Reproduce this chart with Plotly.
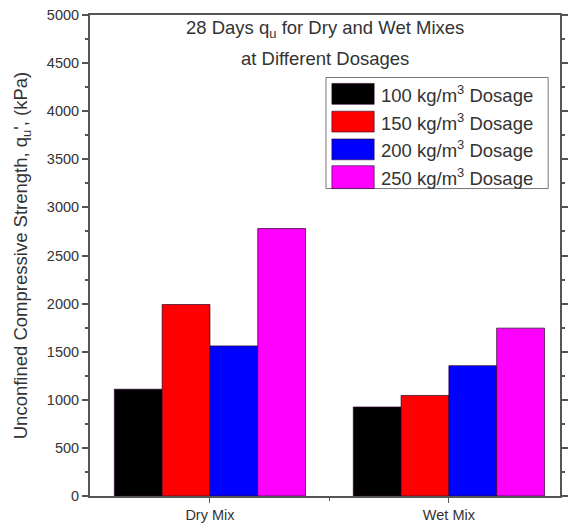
import plotly.graph_objects as go

categories = ["Dry Mix", "Wet Mix"]
series_names = ["100 kg/m<sup>3</sup> Dosage", "150 kg/m<sup>3</sup> Dosage",
                "200 kg/m<sup>3</sup> Dosage", "250 kg/m<sup>3</sup> Dosage"]
values_100 = [1110, 925]
values_150 = [1990, 1045]
values_200 = [1560, 1355]
values_250 = [2780, 1745]
series_values = [values_100, values_150, values_200, values_250]
colors = ["#000000", "#ff0000", "#0000ff", "#ff00ff"]
y_ticks = list(range(0, 5001, 500))

W, H = 575, 531
L, R, T, B = 90, 7, 11, 35
PW, PH = W - L - R, H - T - B


def px(x):
    return (x - L) / PW


def py(y):
    return (H - B - y) / PH


FONT = "Liberation Sans, Arial, sans-serif"
TXT = "#333333"
AX = "#555555"

x_pos = list(range(len(categories)))
fig = go.Figure()
for name, vals, col in zip(series_names, series_values, colors):
    fig.add_trace(go.Bar(x=x_pos, y=vals, name=name, marker=dict(color=col, line=dict(color="rgba(40,0,40,0.7)", width=1)),
                         showlegend=False))

fig.update_layout(
    width=W, height=H,
    margin=dict(l=L, r=R, t=T, b=B),
    paper_bgcolor="white", plot_bgcolor="white",
    barmode="group", bargap=0.2, bargroupgap=0,
    font=dict(family=FONT, color=TXT, size=14),
    xaxis=dict(range=[-0.502, 1.465], tickvals=x_pos, ticktext=categories,
               showline=True, linecolor=AX, linewidth=2, mirror=True,
               ticks="outside", ticklen=5, tickcolor=AX, tickwidth=1,
               minor=dict(tickvals=[0.5], ticks="outside", ticklen=3, tickcolor=AX),
               showgrid=False, zeroline=False, tickfont=dict(size=14.5, color=TXT)),
    yaxis=dict(range=[0, 5000], tickvals=y_ticks,
               showline=True, linecolor=AX, linewidth=2, mirror="ticks",
               ticks="outside", ticklen=6, tickcolor=AX, tickwidth=1.5,
               minor=dict(dtick=250, ticks="outside", ticklen=3, tickcolor=AX),
               showgrid=False, zeroline=False, tickfont=dict(size=14.5, color=TXT),
               title=dict(text="Unconfined Compressive Strength, q<sub>u</sub>', (kPa)",
                          font=dict(size=18.5, color=TXT), standoff=14)),
)

# Title inside plot
fig.add_annotation(xref="paper", yref="paper", x=0.5, y=py(25), text="28 Days q<sub>u</sub> for Dry and Wet Mixes",
                   showarrow=False, font=dict(size=18.5, color=TXT), xanchor="center", yanchor="middle")
fig.add_annotation(xref="paper", yref="paper", x=0.5, y=py(55), text="at Different Dosages",
                   showarrow=False, font=dict(size=18.5, color=TXT), xanchor="center", yanchor="middle")

# Custom legend
fig.add_shape(type="rect", xref="paper", yref="paper", x0=px(330), x1=px(556), y0=py(186), y1=py(74),
              line=dict(color="#777777", width=1), fillcolor="white", layer="below")
rows = [(80, 101), (108, 129), (136, 157), (163, 186)]
for (y0, y1), name, col in zip(rows, series_names, colors):
    fig.add_shape(type="rect", xref="paper", yref="paper", x0=px(336), x1=px(379), y0=py(y1), y1=py(y0),
                  fillcolor=col, line=dict(color="rgba(40,0,40,0.6)", width=1))
    fig.add_annotation(xref="paper", yref="paper", x=px(384), y=py((y0 + y1) / 2), text=name,
                       showarrow=False, xanchor="left", yanchor="middle", font=dict(size=18.5, color=TXT))

fig.write_html("out.html")
